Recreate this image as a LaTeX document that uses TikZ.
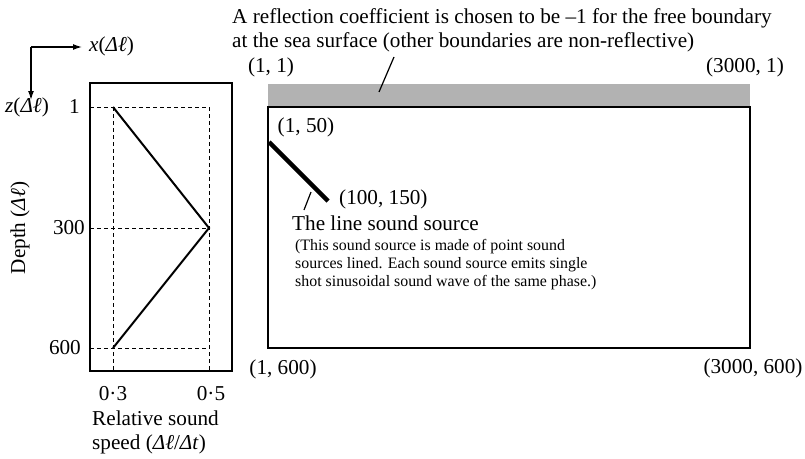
\documentclass[tikz,border=0pt]{standalone}
\usepackage{fontspec}
\setmainfont{Liberation Serif}
\usetikzlibrary{arrows.meta}
\begin{document}
\begin{tikzpicture}[x=1pt,y=-1pt,
  txt/.style={font=\fontsize{21.2}{24}\selectfont, inner sep=0pt},
  small/.style={font=\fontsize{15.9}{18}\selectfont, inner sep=0pt},
  frame/.style={line width=1.5pt},
  guide/.style={line width=0.6pt, dash pattern=on 4pt off 3pt},
  curve/.style={line width=2pt},
  ptr/.style={line width=1.2pt},
  axarrow/.style={line width=1.3pt,-{Latex[length=9pt,width=6pt]}}]
\useasboundingbox (0,0) rectangle (805,458);
% axes indicator
\coordinate (ax0) at (31,47);
\coordinate (axx) at (82,47);
\coordinate (axz) at (31,100);
\draw[axarrow] (ax0) -- (axx);
\draw[axarrow] (ax0) -- (axz);
\node[txt, anchor=west] (xl) at (89,46) {\textit{x}(\textit{Δℓ})};
\node[txt, anchor=west] (zl) at (5,107) {\textit{z}(\textit{Δℓ})};
% left panel
\coordinate (L1) at (113,107);
\coordinate (L2) at (209,228);
\coordinate (L3) at (113,348);
\draw[guide] (90,107) -- (209,107);
\draw[guide] (90,228) -- (209,228);
\draw[guide] (90,348) -- (209,348);
\draw[guide] (113,107) -- (113,371);
\draw[guide] (209,107) -- (209,371);
\draw[frame] (90,83) rectangle (232,371);
\draw[curve] (L1) -- (L2) -- (L3);
\node[txt, anchor=east] (t1) at (80,106) {1};
\node[txt, anchor=east] (t300) at (85,228) {300};
\node[txt, anchor=east] (t600) at (81,348) {600};
\node[txt, rotate=90] (depth) at (20,228) {Depth (\textit{Δℓ})};
\node[txt] (v3) at (113,394) {0·3};
\node[txt] (v5) at (211,394) {0·5};
\node[txt, anchor=west] (rs1) at (92,418) {Relative sound};
\node[txt, anchor=west] (rs2) at (92,444) {speed (\textit{Δℓ}/\textit{Δt})};
% right panel
\fill[black!30] (268,84) rectangle (750,107);
\draw[frame] (268,107) rectangle (750,348);
\node[txt, anchor=west] (note1) at (232,18) {A reflection coefficient is chosen to be –1 for the free boundary};
\node[txt, anchor=west] (note2) at (232,42) {at the sea surface (other boundaries are non-reflective)};
\coordinate (p1a) at (379,92);
\coordinate (p1b) at (394,57);
\draw[ptr] (p1a) -- (p1b);
\node[txt] (c11) at (271,67) {(1, 1)};
\node[txt] (c31) at (745,67) {(3000, 1)};
\node[txt] (c150) at (306,127) {(1, 50)};
\coordinate (s1) at (269,142);
\coordinate (s2) at (328,201);
\draw[line width=4.5pt] (s1) -- (s2);
\node[txt, anchor=west] (c100) at (339,199) {(100, 150)};
\coordinate (p2a) at (304,210);
\coordinate (p2b) at (311,192);
\draw[ptr] (p2a) -- (p2b);
\node[txt, anchor=west] (src) at (292,223) {The line sound source};
\node[small, anchor=west] (d1) at (295,247) {(This sound source is made of point sound};
\node[small, anchor=west] (d2) at (295,265) {sources lined. Each sound source emits single};
\node[small, anchor=west] (d3) at (295,283) {shot sinusoidal sound wave of the same phase.)};
\node[txt] (c1600) at (283,369) {(1, 600)};
\node[txt] (c3600) at (753,368) {(3000, 600)};
\end{tikzpicture}
\end{document}
